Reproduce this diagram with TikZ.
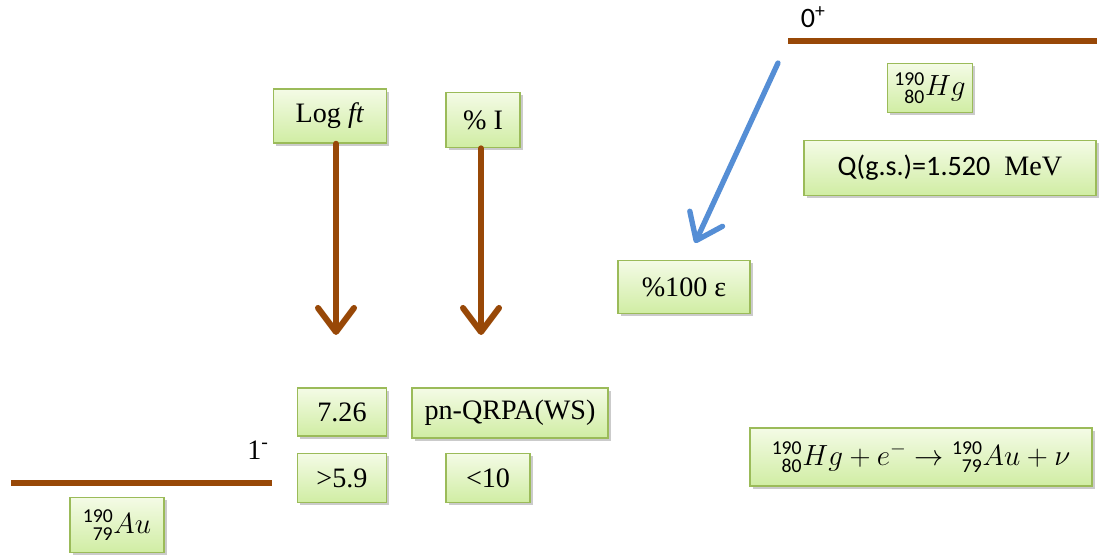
\documentclass[tikz,border=0pt]{standalone}
\usepackage{fontspec}
\setmainfont{Liberation Serif}
\setsansfont{Carlito}
\usetikzlibrary{arrows.meta}
\usetikzlibrary{shadows}
\definecolor{levelbrown}{HTML}{984807}
\definecolor{decayblue}{HTML}{558ED5}
\definecolor{boxline}{HTML}{9BBB59}
\definecolor{boxtop}{HTML}{F4FBE6}
\definecolor{boxbottom}{HTML}{D0EDA3}
\newcommand{\nuc}[3]{{}^{\mathsf{#1}}_{\mathsf{\phantom{1}#2}}#3}
\tikzset{
  infobox/.style={draw=boxline, line width=1.1pt, top color=boxtop, bottom color=boxbottom,
    drop shadow={shadow xshift=2pt, shadow yshift=-2pt, fill=black!45, opacity=0.45},
    inner sep=0pt, font=\fontsize{20}{24}\selectfont},
  level/.style={levelbrown, line width=4.3pt},
  transarrow/.style={levelbrown, line width=4.3pt, line cap=round,
    -{Straight Barb[length=6mm,width=9mm,round]}},
  decayarrow/.style={decayblue, line width=3.8pt, line cap=round,
    -{Straight Barb[length=6mm,width=9mm,round]}},
  spin/.style={font=\fontsize{20}{24}\selectfont}
}
\begin{document}
\begin{tikzpicture}[x=0.025cm, y=-0.025cm]
    \useasboundingbox (0,0) rectangle (1099,556);
    %KOORDINAT
    \coordinate (hgL) at (788,41);
    \coordinate (hgR) at (1097,41);
    \coordinate (auL) at (11,483);
    \coordinate (auR) at (272,483);
    \coordinate (ecstart) at (778,63);
    \coordinate (ecend) at (695,243);
    \coordinate (ftend) at (336,335);
    \coordinate (iend) at (481,335);
    %LEVEL
    \draw[level] (hgL) -- (hgR);
    \draw[level] (auL) -- (auR);
    \node[spin, anchor=west] (spinhg) at (796,17) {\textsf{0\textsuperscript{+}}};
    \node[spin] (spinau) at (258,450) {1\textsuperscript{-}};
    %KOTAK
    \node[infobox, minimum width=2.13cm, minimum height=1.23cm] (hg) at (930,88) {$\nuc{190}{80}{Hg}$};
    \node[infobox, minimum width=7.3cm, minimum height=1.38cm] (qval) at (950,168) {\textsf{Q(g.s.)=1.520}\ \ MeV};
    \node[infobox, minimum width=3.3cm, minimum height=1.33cm] (eps) at (684,287) {\%100 ε};
    \node[infobox, minimum width=2.83cm, minimum height=1.35cm] (logft) at (330,116) {Log \textit{ft}};
    \node[infobox, minimum width=1.85cm, minimum height=1.38cm] (pcti) at (483,120) {\% I};
    \node[infobox, minimum width=2.23cm, minimum height=1.2cm] (ftval) at (342,412) {7.26};
    \node[infobox, minimum width=4.9cm, minimum height=1.25cm] (model) at (510,413) {pn-QRPA(WS)};
    \node[infobox, minimum width=2.23cm, minimum height=1.23cm] (ftexp) at (342,478) {>5.9};
    \node[infobox, minimum width=2.1cm, minimum height=1.23cm] (iexp) at (488,478) {<10};
    \node[infobox, minimum width=2.35cm, minimum height=1.38cm] (au) at (117,525) {$\nuc{190}{79}{Au}$};
    \node[infobox, minimum width=8.55cm, minimum height=1.45cm] (reac) at (921,457)
      {$\nuc{190}{80}{Hg} + e^{-} \rightarrow \nuc{190}{79}{Au} + \nu$};
    %PANAH
    \draw[transarrow] (logft.south -| ftend) -- (ftend);
    \draw[transarrow] (pcti.south -| iend) -- (iend);
    \draw[decayarrow] (ecstart) -- (ecend);
\end{tikzpicture}
\end{document}
